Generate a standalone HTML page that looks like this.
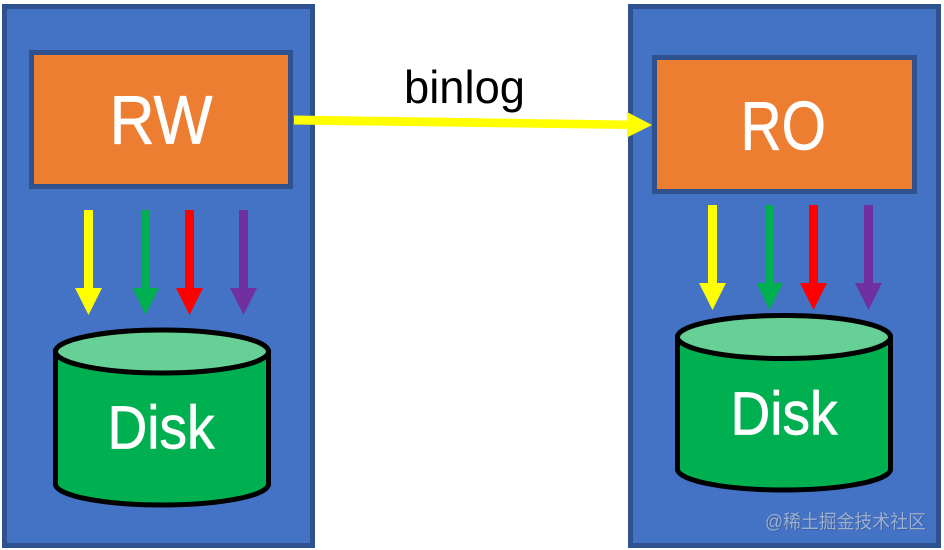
<!DOCTYPE html>
<html>
<head>
<meta charset="utf-8">
<style>
html,body{margin:0;padding:0;background:#fff;width:944px;height:550px;overflow:hidden}
svg{display:block}
text{font-family:"Liberation Sans","Noto Sans CJK SC",sans-serif}
</style>
</head>
<body>
<svg width="944" height="550" viewBox="0 0 944 550" xmlns="http://www.w3.org/2000/svg">
<rect width="944" height="550" fill="#fff"/>
<!-- panels -->
<rect x="4.5" y="6.5" width="308" height="539" fill="#4472C4" stroke="#2F528F" stroke-width="5"/>
<rect x="630.5" y="6.5" width="308" height="539" fill="#4472C4" stroke="#2F528F" stroke-width="5"/>
<!-- boxes -->
<rect x="31.5" y="52.5" width="259" height="134" fill="#ED7D31" stroke="#2F528F" stroke-width="5"/>
<rect x="654.5" y="57.5" width="260" height="134" fill="#ED7D31" stroke="#2F528F" stroke-width="5"/>
<text x="109.5" y="143.5" font-size="69" fill="#fff" stroke="#fff" stroke-width="0.7" textLength="103" lengthAdjust="spacingAndGlyphs">RW</text>
<text x="740.5" y="149.5" font-size="69" fill="#fff" stroke="#fff" stroke-width="0.7" textLength="85.5" lengthAdjust="spacingAndGlyphs">RO</text>
<!-- binlog connector -->
<polygon points="294,115.5 627,120.5 627,112 652,125 627,137.5 627,129 294,124.5" fill="#FFFF00"/>
<text x="404" y="103" font-size="46" fill="#000" textLength="121" lengthAdjust="spacingAndGlyphs">binlog</text>
<!-- left arrows -->
<polygon points="84,210 93,210 93,288 102,288 88.5,315 75,288 84,288" fill="#FFFF00"/>
<polygon points="141,210 150,210 150,288 159,288 145.5,315 132.5,288 141,288" fill="#00B050"/>
<polygon points="185,210 194,210 194,288 203,288 189.5,315 176,288 185,288" fill="#FF0000"/>
<polygon points="239,210 248,210 248,288 257,288 243.5,315 230,288 239,288" fill="#7030A0"/>
<!-- right arrows -->
<polygon points="708,205 717,205 717,283 726,283 712.5,310 699,283 708,283" fill="#FFFF00"/>
<polygon points="765,205 774,205 774,283 783,283 769.5,310 756.5,283 765,283" fill="#00B050"/>
<polygon points="809,205 818,205 818,283 827,283 813.5,310 800,283 809,283" fill="#FF0000"/>
<polygon points="864,205 873,205 873,283 882,283 868.5,310 855,283 864,283" fill="#7030A0"/>
<!-- left disk -->
<path d="M55.5,351.5 V484 A106.5,21 0 0 0 268.5,484 V351.5 Z" fill="#00B050" stroke="#000" stroke-width="5"/>
<ellipse cx="162" cy="351.5" rx="106.5" ry="21.5" fill="#66D096" stroke="#000" stroke-width="5"/>
<text x="107.5" y="448.5" font-size="61" fill="#fff" stroke="#fff" stroke-width="0.7" textLength="107" lengthAdjust="spacingAndGlyphs">Disk</text>
<!-- right disk -->
<path d="M677.5,337 V469 A106.5,21 0 0 0 890.5,469 V337 Z" fill="#00B050" stroke="#000" stroke-width="5"/>
<ellipse cx="784" cy="337" rx="106.5" ry="21.5" fill="#66D096" stroke="#000" stroke-width="5"/>
<text x="730.5" y="434.5" font-size="61" fill="#fff" stroke="#fff" stroke-width="0.7" textLength="107" lengthAdjust="spacingAndGlyphs">Disk</text>
<!-- watermark -->
<text x="765.7" y="528.7" font-size="19" fill="#33528c" textLength="161" lengthAdjust="spacingAndGlyphs">@稀土掘金技术社区</text>
<text x="765" y="528" font-size="19" fill="#9DB0D2" textLength="161" lengthAdjust="spacingAndGlyphs">@稀土掘金技术社区</text>
</svg>
</body>
</html>
